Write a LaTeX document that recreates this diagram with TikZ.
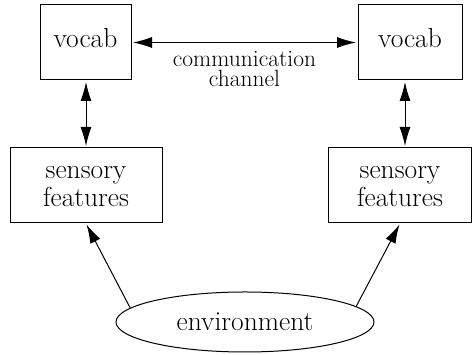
\documentclass[tikz,border=0pt]{standalone}
\usetikzlibrary{shapes.geometric, arrows.meta}
\usetikzlibrary{calc}
\tikzset{block/.style = {rectangle, line width=1pt, minimum height=75pt, inner sep=0pt, align=center, draw=black, font=\fontsize{27.5}{28}\selectfont}}
\tikzset{cloud/.style = {ellipse, line width=1pt, minimum width=258pt, minimum height=60pt, inner sep=0pt, draw=black, font=\fontsize{27.5}{28}\selectfont}}
\tikzset{chanlabel/.style = {inner sep=0pt, align=center, font=\fontsize{23.5}{20}\selectfont}}
\tikzset{dblarrow/.style = {line width=1pt, {Latex[length=19pt,width=11pt]}-{Latex[length=19pt,width=11pt]}, shorten <=1.5pt, shorten >=1.5pt}}
\tikzset{arrow/.style = {line width=1pt, -{Latex[length=19pt,width=11pt]}, shorten >=1pt}}

\begin{document}
\begin{tikzpicture}[node distance=143pt, x=1pt, y=1pt]
	\useasboundingbox (0,0) rectangle (472,355);
	\node (lvocab) 	[block, minimum width=91pt, text depth=9pt] at (85.5,312.5)			{vocab};
	\node (rvocab) 	[block, minimum width=104pt, text depth=9pt, right of=lvocab, xshift=181.5pt]	{vocab};
	\node (lsens) 	[block, minimum width=152pt, text height=42pt, text depth=0pt, below of=lvocab, xshift=0.5pt]		{sensory\\features};
	\node (rsens) 	[block, minimum width=143pt, text height=42pt, text depth=0pt, below of=rvocab, xshift=-10pt]		{sensory\\features};
	\node (env) 	[cloud, below of=lsens, xshift=159pt, yshift=6.5pt]				{environment};
	\coordinate (rmid) at ($(rvocab.south)!0.5!(rsens.north)$);
	
	\draw [dblarrow] (lvocab) -- node[chanlabel, below=8pt] {communication\\channel} (rvocab);
	
	\draw [dblarrow] (lvocab.south -| lsens.north) -- (lsens.north);
	\draw [dblarrow] (rvocab.south -| rmid) -- (rsens.north -| rmid);
	
	\draw [arrow] (env.173) -- (lsens.south);
	\draw [arrow] (env.8) 	-- (rsens.south);
\end{tikzpicture}
\end{document}
